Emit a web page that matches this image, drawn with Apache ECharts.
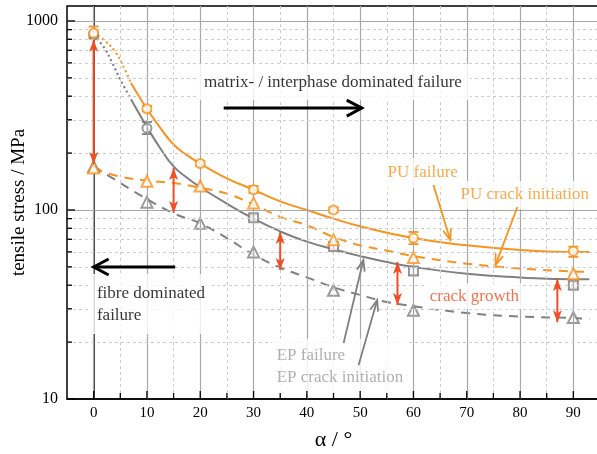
<!DOCTYPE html>
<html>
<head>
<meta charset="utf-8">
<script src="https://cdn.jsdelivr.net/npm/echarts@6/dist/echarts.min.js"></script>
<style>
html, body { margin: 0; padding: 0; background: #fff; }
#main { width: 597px; height: 454px; }
</style>
</head>
<body>
<div id="main"></div>
<script>
// fibre angle alpha / deg of the test series
var angles = [0, 10, 20, 30, 45, 60, 90];

// measured tensile stress / MPa
var puFailure = [864, 343, 176, 128, 100, 71, 60.5];
var puFailureLo = [805, 333, 171, 123, 97, 66, 56.5];
var puFailureHi = [935, 355, 182, 134, 103, 76.5, 64];
var puCrack = [167, 142, 134, 109, 69.5, 56, 46];

var epAngles = [0, 10, 30, 45, 60, 90];
var epFailure = [845, 271, 91, 64, 47.5, 40];
var epFailureLo = [820, 252, 88, 62, 45.5, 38.5];
var epFailureHi = [870, 292, 94, 66, 49.5, 41.5];
var epFailureSym = ['emptyCircle', 'emptyCircle', 'emptyRect', 'emptyRect', 'emptyRect', 'emptyRect'];
var epCrack = [170, 110, 85, 60, 37.6, 29.5, 27];

// fitted curves
var puFitDotA = [0, 2, 4, 5.5, 7];
var puFitDotV = [864, 790, 690, 580, 470];
var puFitA = [7, 8.5, 10, 12.5, 15, 17.5, 20, 25, 30, 35, 40, 45, 50, 60, 70, 80, 90, 93];
var puFitV = [470, 400, 343, 272, 222, 195, 176, 147, 128, 111, 100, 90, 82, 71, 65, 61.5, 60, 60];

var epFitDotA = [0, 2, 3.5, 5, 7];
var epFitDotV = [845, 720, 600, 490, 385];
var epFitA = [7, 10, 12.5, 15, 17.5, 20, 25, 30, 35, 40, 45, 50, 55, 60, 70, 80, 90, 93];
var epFitV = [385, 275, 212, 170, 148, 132, 108, 90, 77, 68, 62, 57, 53, 50, 46, 44, 43, 43];

var puCrackFitA = [0, 5, 10, 15, 20, 25, 30, 35, 40, 45, 50, 55, 60, 70, 80, 90, 93];
var puCrackFitV = [166, 150, 143, 139, 131, 122, 107, 92, 83, 72, 65, 61, 57, 52, 49, 47.3, 47];

var epCrackFitA = [0, 5, 8.7, 15, 20, 25, 30, 35, 40, 45, 50, 55, 60, 70, 80, 90, 93];
var epCrackFitV = [170, 139, 120, 96, 85, 71, 58, 49.5, 44, 39, 35.5, 32.6, 31, 28.5, 27.3, 26.8, 26.5];

// crack growth span: angle, crack initiation, failure
var growthA = [0, 15, 35, 57, 87];
var growthLo = [175, 96.4, 48.1, 31.4, 25.5];
var growthHi = [795, 167, 76.4, 53, 43.1];

// grid line values
var xMajor = [0, 10, 20, 30, 40, 50, 60, 70, 80, 90];
var xMinor = [5, 15, 25, 35, 45, 55, 65, 75, 85];
var yMajor = [100, 1000];
var yMinor = [20, 30, 40, 50, 60, 70, 80, 90, 200, 300, 400, 500, 600, 700, 800, 900];
var yLabels = [10, 100, 1000];

var ORANGE = '#f7931e';
var GRAY = '#808080';
var RED = '#f04e23';
var LGRAY = '#9c9c9c';
var FONT = 'Liberation Serif';

function zip(a, b) {
    return a.map(function(v, i) { return [v, b[i]]; });
}

function errorBars(name, xs, lo, hi, color) {
    return {
        type: 'custom', name: name, z: 4, silent: true,
        data: xs.map(function(x, i) { return [x, lo[i], hi[i]]; }),
        renderItem: function(params, api) {
            var t = api.coord([api.value(0), api.value(2)]);
            var b = api.coord([api.value(0), api.value(1)]);
            var w = 5;
            var st = { stroke: color, lineWidth: 1.8 };
            return {
                type: 'group',
                children: [
                    { type: 'line', shape: { x1: t[0], y1: t[1], x2: b[0], y2: b[1] }, style: st },
                    { type: 'line', shape: { x1: t[0] - w, y1: t[1], x2: t[0] + w, y2: t[1] }, style: st },
                    { type: 'line', shape: { x1: b[0] - w, y1: b[1], x2: b[0] + w, y2: b[1] }, style: st }
                ]
            };
        }
    };
}

// segments [x1, y1, x2, y2], head at the second point (and the first if both)
function arrows(name, segs, color, width, len, half, both, filled, z) {
    function head(p, q) {
        var dx = q[0] - p[0], dy = q[1] - p[1];
        var d = Math.sqrt(dx * dx + dy * dy) || 1;
        dx /= d; dy /= d;
        var nx = -dy, ny = dx;
        var l = [q[0] - dx * len + nx * half, q[1] - dy * len + ny * half];
        var r = [q[0] - dx * len - nx * half, q[1] - dy * len - ny * half];
        if (filled) {
            var m = [q[0] - dx * len * 0.75, q[1] - dy * len * 0.75];
            return { type: 'polygon', shape: { points: [q, l, m, r] }, style: { fill: color } };
        }
        return { type: 'polyline', shape: { points: [l, q, r] }, style: { stroke: color, lineWidth: width, fill: null } };
    }
    return {
        type: 'custom', name: name, z: z || 8, silent: true,
        data: segs,
        renderItem: function(params, api) {
            var a = api.coord([api.value(0), api.value(1)]);
            var b = api.coord([api.value(2), api.value(3)]);
            var kids = [{ type: 'line', shape: { x1: a[0], y1: a[1], x2: b[0], y2: b[1] }, style: { stroke: color, lineWidth: width } }];
            kids.push(head(a, b));
            if (both) kids.push(head(b, a));
            return { type: 'group', children: kids };
        }
    };
}

var chart = echarts.init(document.getElementById('main'));

var gridLines = [];
xMajor.forEach(function(v) { gridLines.push({ xAxis: v, lineStyle: { color: '#a8a8a8', type: 'solid', width: 1.2 } }); });
xMinor.forEach(function(v) { gridLines.push({ xAxis: v, lineStyle: { color: '#cdcdcd', type: [3, 3], width: 1 } }); });
yMajor.forEach(function(v) { gridLines.push({ yAxis: v, lineStyle: { color: '#a8a8a8', type: 'solid', width: 1.2 } }); });
yMinor.forEach(function(v) { gridLines.push({ yAxis: v, lineStyle: { color: '#cdcdcd', type: [3, 3], width: 1 } }); });

// axis ticks drawn inside the frame
var ticks = {
    type: 'custom', z: 9, silent: true,
    data: xMajor.concat(xMinor).map(function(v) { return [v, 10, 0]; })
        .concat(yLabels.concat(yMinor).map(function(v) { return [-5, v, 1]; })),
    renderItem: function(params, api) {
        var p = api.coord([api.value(0), api.value(1)]);
        var st = { stroke: '#000', lineWidth: 1.3 };
        if (api.value(2) === 0) {
            var len = api.value(0) % 10 === 0 ? 8 : 6;
            return { type: 'line', shape: { x1: p[0], y1: p[1], x2: p[0], y2: p[1] - len }, style: st };
        }
        var v = api.value(1);
        var lenY = yLabels.indexOf(v) >= 0 ? 8 : 5;
        return { type: 'line', shape: { x1: p[0], y1: p[1], x2: p[0] + lenY, y2: p[1] }, style: st };
    }
};

var notes = [
    { value: [44.9, 475], text: 'matrix- / interphase dominated failure', color: '#000', pos: 'inside', pad: [7, 8] },
    { value: [-0.7, 31.8], text: 'fibre dominated\nfailure', color: '#000', pos: 'right', pad: [8, 7] },
    { value: [33.4, 14.8], text: 'EP failure\nEP crack initiation', color: LGRAY, pos: 'right', pad: [6, 5] },
    { value: [54.2, 157], text: 'PU failure', color: ORANGE, pos: 'right', pad: [4, 5] },
    { value: [67.9, 120], text: 'PU crack initiation', color: ORANGE, pos: 'right', pad: [3, 5] },
    { value: [62.5, 35], text: 'crack growth', color: RED, pos: 'right', pad: [2, 3] }
];

var option = {
    animation: false,
    backgroundColor: '#fff',
    grid: {
        left: 67, right: -3, top: 6, bottom: 55, outerBoundsMode: 'none', containLabel: false,
        show: true, borderColor: '#000', borderWidth: 1.5, backgroundColor: 'transparent'
    },
    xAxis: {
        type: 'value', min: -5, max: 95, interval: 5,
        name: 'α / °', nameLocation: 'middle', nameGap: 30,
        nameTextStyle: { fontFamily: FONT, fontSize: 22, color: '#000' },
        axisLine: { lineStyle: { color: '#000', width: 1.5 } },
        axisTick: { show: false },
        splitLine: { show: false },
        axisLabel: {
            margin: 7, fontFamily: FONT, fontSize: 15, color: '#000',
            formatter: function(v) { return (v >= 0 && v <= 90 && v % 10 === 0) ? String(v) : ''; }
        }
    },
    yAxis: {
        type: 'log', logBase: 10, min: 10, max: 1200,
        name: 'tensile stress / MPa', nameLocation: 'middle', nameGap: 38, nameMoveOverlap: false,
        nameTextStyle: { fontFamily: FONT, fontSize: 19, color: '#000' },
        axisLine: { lineStyle: { color: '#000', width: 1.5 } },
        axisTick: { show: false },
        splitLine: { show: false },
        axisLabel: {
            margin: 9, fontFamily: FONT, fontSize: 16, color: '#000', showMaxLabel: false,
            formatter: function(v) { var r = Math.round(v); return yLabels.indexOf(r) >= 0 ? String(r) : ''; }
        }
    },
    series: [
        {
            type: 'line', name: 'grid', data: [], z: 1, silent: true,
            markLine: { silent: true, symbol: 'none', label: { show: false }, data: gridLines }
        },
        ticks,
        // fitted curves
        { type: 'line', name: 'EP fit dotted', z: 2, data: zip(epFitDotA, epFitDotV), smooth: 0.4, showSymbol: false, lineStyle: { color: GRAY, width: 2.2, type: [2, 3] } },
        { type: 'line', name: 'EP fit', z: 2, data: zip(epFitA, epFitV), smooth: 0.5, showSymbol: false, lineStyle: { color: GRAY, width: 2 } },
        { type: 'line', name: 'EP crack fit', z: 2, data: zip(epCrackFitA, epCrackFitV), smooth: 0.4, showSymbol: false, lineStyle: { color: GRAY, width: 2, type: [9, 7] } },
        { type: 'line', name: 'PU fit dotted', z: 2, data: zip(puFitDotA, puFitDotV), smooth: 0.4, showSymbol: false, lineStyle: { color: ORANGE, width: 2.2, type: [2, 3] } },
        { type: 'line', name: 'PU fit', z: 2, data: zip(puFitA, puFitV), smooth: 0.5, showSymbol: false, lineStyle: { color: ORANGE, width: 2 } },
        { type: 'line', name: 'PU crack fit', z: 2, data: zip(puCrackFitA, puCrackFitV), smooth: 0.4, showSymbol: false, lineStyle: { color: ORANGE, width: 2, type: [9, 7] } },
        // measured points
        errorBars('EP failure err', epAngles, epFailureLo, epFailureHi, GRAY),
        {
            type: 'scatter', name: 'EP failure', z: 4, symbolSize: 9,
            data: epAngles.map(function(a, i) { return { value: [a, epFailure[i]], symbol: epFailureSym[i] }; }),
            itemStyle: { color: GRAY, borderColor: GRAY, borderWidth: 1.8 }
        },
        { type: 'scatter', name: 'EP crack initiation', z: 4, symbol: 'emptyTriangle', symbolSize: 11, data: zip(angles, epCrack), itemStyle: { color: GRAY, borderColor: GRAY, borderWidth: 1.8 } },
        errorBars('PU failure err', angles, puFailureLo, puFailureHi, ORANGE),
        { type: 'scatter', name: 'PU failure', z: 5, symbol: 'emptyCircle', symbolSize: 9, data: zip(angles, puFailure), itemStyle: { color: ORANGE, borderColor: ORANGE, borderWidth: 1.8 } },
        { type: 'scatter', name: 'PU crack initiation', z: 5, symbol: 'emptyTriangle', symbolSize: 11, data: zip(angles, puCrack), itemStyle: { color: ORANGE, borderColor: ORANGE, borderWidth: 1.8 } },
        // text annotations
        {
            type: 'scatter', name: 'notes', z: 6, silent: true, symbolSize: 0,
            data: notes.map(function(n) {
                return {
                    value: n.value,
                    label: {
                        show: true, position: n.pos, distance: 0, formatter: n.text,
                        color: n.color, fontFamily: FONT, fontSize: 17, lineHeight: 22,
                        backgroundColor: '#fff', padding: n.pad, align: n.pos === 'inside' ? 'center' : 'left'
                    }
                };
            })
        },
        // crack growth arrows
        arrows('growth', growthA.map(function(a, i) { return [a, growthLo[i], a, growthHi[i]]; }), RED, 2, 12, 4.5, true, true, 7),
        // regime arrows
        arrows('regimes', [[24.4, 346, 50.3, 346], [15.3, 49.9, 0, 49.9]], '#000', 3, 15, 8, false, false, 8),
        // pointers from labels
        arrows('PU pointers', [[63.75, 135.6, 66.9, 69.3], [79.5, 103.7, 75.4, 51.2]], ORANGE, 1.8, 11, 4, false, false, 8),
        arrows('EP pointers', [[46.9, 19.8, 50.6, 54.4], [49.7, 15.1, 53.2, 33.4]], GRAY, 1.8, 11, 4, false, false, 8)
    ]
};

chart.setOption(option);
</script>
</body>
</html>
